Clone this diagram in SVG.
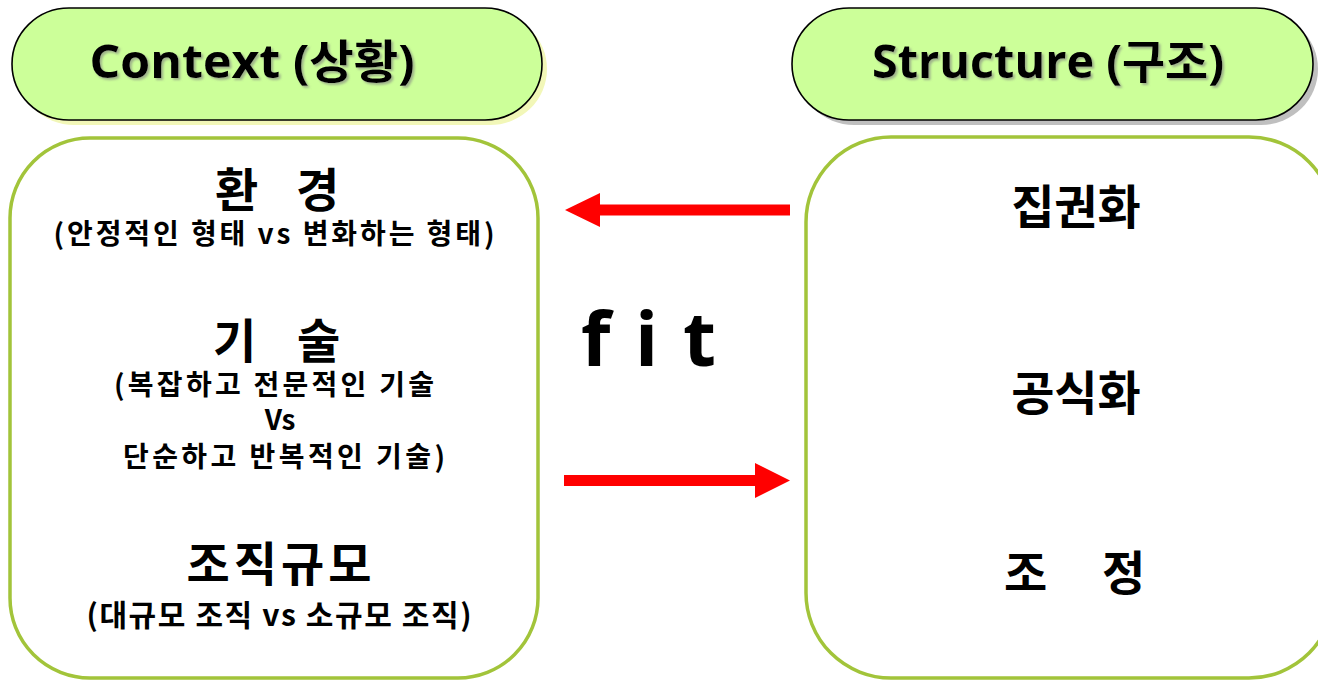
<svg xmlns="http://www.w3.org/2000/svg" width="1318" height="680" viewBox="0 0 1318 680">
<defs>
<style>
.pill{fill:#ccff99;stroke:#000;stroke-width:1.6}
.box{fill:#fff;stroke:#a2c43a;stroke-width:3.5}
.t{font-family:"Open Sans","Noto Sans CJK KR",sans-serif;font-weight:bold;fill:#000}
.k{font-family:"Noto Sans CJK KR","Open Sans",sans-serif;font-weight:bold;fill:#000}
.big{font-size:47px}
.mid{font-size:28px}
.title{font-size:46px}
.arrow{fill:#ff0000}
</style>
<filter id="ts" x="-5%" y="-20%" width="110%" height="140%">
<feDropShadow dx="2" dy="2" stdDeviation="1" flood-color="#808080" flood-opacity="0.6"/>
</filter>
</defs>
<rect width="1318" height="680" fill="#fff"/>

<g id="context-title">
<rect x="17" y="13" width="530" height="112" rx="57" ry="56" fill="#f2f7b8"/>
<rect class="pill" x="12" y="8" width="530" height="112" rx="57" ry="56"/>
<text class="t title" x="252" y="78" text-anchor="middle" textLength="325" lengthAdjust="spacingAndGlyphs" filter="url(#ts)">Context (상황)</text>
</g>

<g id="structure-title">
<rect x="797" y="13" width="521" height="112" rx="57" ry="56" fill="#bfbfbf"/>
<rect class="pill" x="792" y="8" width="521" height="112" rx="57" ry="56"/>
<text class="t title" x="1048" y="78" text-anchor="middle" textLength="352" lengthAdjust="spacingAndGlyphs" filter="url(#ts)">Structure (구조)</text>
</g>

<g id="context-box">
<rect class="box" x="10" y="138" width="528" height="540" rx="80" ry="80"/>
<text class="k big" x="215 259 296" y="207">환 경</text>
<text class="k mid" x="274" y="244" text-anchor="middle" textLength="441" lengthAdjust="spacing">(안정적인 형태 vs 변화하는 형태)</text>
<text class="k big" x="213 258 297" y="358">기 술</text>
<text class="k mid" x="274" y="395" text-anchor="middle" textLength="320" lengthAdjust="spacing">(복잡하고 전문적인 기술</text>
<text class="k mid" x="280" y="430" text-anchor="middle">Vs</text>
<text class="k mid" x="284" y="467" text-anchor="middle" textLength="322" lengthAdjust="spacing">단순하고 반복적인 기술)</text>
<text class="k big" x="279" y="581" text-anchor="middle" textLength="185" lengthAdjust="spacing">조직규모</text>
<text class="k" font-size="30" x="279" y="626" text-anchor="middle" textLength="385" lengthAdjust="spacing">(대규모 조직 vs 소규모 조직)</text>
</g>

<g id="structure-box">
<rect class="box" x="806" y="137" width="528" height="541" rx="85" ry="85"/>
<text class="k big" x="1076" y="224" text-anchor="middle">집권화</text>
<text class="k big" x="1076" y="410" text-anchor="middle">공식화</text>
<text class="k big" x="1004 1054 1102" y="590">조 정</text>
</g>

<g id="fit-label">
<text class="t" font-size="76" x="581 612 635 660 683" y="366">f i t</text>
</g>

<g id="connectors">
<polygon class="arrow" points="790,204.5 600,204.5 600,193 565,210 600,227 600,215.5 790,215.5"/>
<polygon class="arrow" points="564,475 755,475 755,463 790,480.5 755,498 755,486 564,486"/>
</g>
</svg>
